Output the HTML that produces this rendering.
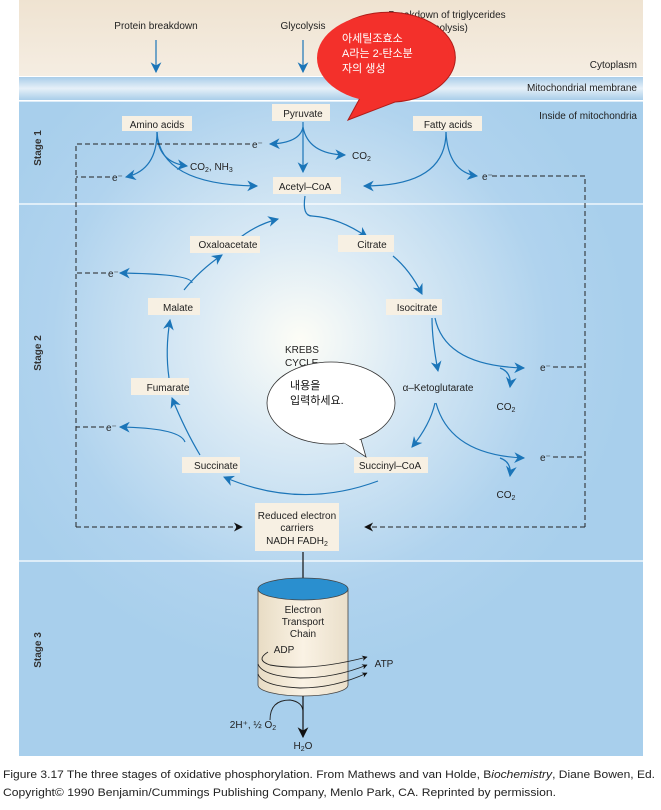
<!DOCTYPE html>
<html><head><meta charset="utf-8"><style>
body{margin:0;background:#fff;width:661px;height:805px;overflow:hidden}
svg text{font-family:"Liberation Sans","Noto Sans CJK KR",sans-serif}
</style></head><body>
<svg width="661" height="805" viewBox="0 0 661 805" xmlns="http://www.w3.org/2000/svg">
<defs>
<linearGradient id="beige" x1="0" y1="0" x2="0" y2="1"><stop offset="0" stop-color="#efe3d1"/><stop offset="1" stop-color="#f5ede2"/></linearGradient>
<linearGradient id="mem" x1="0" y1="0" x2="0" y2="1"><stop offset="0" stop-color="#a9cde9"/><stop offset="0.5" stop-color="#e6f0f8"/><stop offset="1" stop-color="#a9cde9"/></linearGradient>
<radialGradient id="glow" cx="300" cy="340" r="330" gradientUnits="userSpaceOnUse"><stop offset="0" stop-color="#fdfdf6"/><stop offset="0.3" stop-color="#dcebf5"/><stop offset="0.75" stop-color="#b0d3ee"/><stop offset="1" stop-color="#a8cfec"/></radialGradient>
<linearGradient id="cyl" x1="0" y1="0" x2="1" y2="0"><stop offset="0" stop-color="#e8dcc4"/><stop offset="0.5" stop-color="#faf2e4"/><stop offset="1" stop-color="#eadfca"/></linearGradient>
<marker id="ab" viewBox="0 0 10 10" refX="9" refY="5" markerWidth="11" markerHeight="9" orient="auto"><path d="M0,0 L10,5 L0,10 L3,5z" fill="#1b75b8"/></marker>
<marker id="ak" viewBox="0 0 10 10" refX="9" refY="5" markerWidth="11" markerHeight="9" orient="auto"><path d="M0,0 L10,5 L0,10 L3,5z" fill="#111"/></marker>
<marker id="as" viewBox="0 0 10 10" refX="9" refY="5" markerWidth="7" markerHeight="6" orient="auto"><path d="M0,0 L10,5 L0,10 L3,5z" fill="#111"/></marker>
</defs>
<rect x="19" y="0" width="624" height="76" fill="url(#beige)"/>
<rect x="19" y="77" width="624" height="23" fill="url(#mem)"/>
<rect x="19" y="101" width="624" height="655" fill="url(#glow)"/>
<line x1="19" y1="101" x2="643" y2="101" stroke="#fff" stroke-width="1.2"/>
<line x1="19" y1="204" x2="643" y2="204" stroke="#fff" stroke-width="1.2"/>
<line x1="19" y1="561" x2="643" y2="561" stroke="#fff" stroke-width="1.2"/>
<g font-size="10" fill="#222">
<text x="156" y="29" text-anchor="middle">Protein breakdown</text>
<text x="303" y="29" text-anchor="middle">Glycolysis</text>
<text x="447" y="18" text-anchor="middle">Breakdown of triglycerides</text>
<text x="447" y="31" text-anchor="middle">(lipolysis)</text>
<text x="637" y="68" text-anchor="end">Cytoplasm</text>
<text x="637" y="91" text-anchor="end">Mitochondrial membrane</text>
<text x="637" y="119" text-anchor="end">Inside of mitochondria</text>
</g>
<g font-size="10" font-weight="bold" fill="#333">
<text transform="translate(41,148) rotate(-90)" text-anchor="middle">Stage 1</text>
<text transform="translate(41,353) rotate(-90)" text-anchor="middle">Stage 2</text>
<text transform="translate(41,650) rotate(-90)" text-anchor="middle">Stage 3</text>
</g>
<g stroke="#1b75b8" stroke-width="1.2" fill="none" marker-end="url(#ab)">
<line x1="156" y1="40" x2="156" y2="72"/>
<line x1="303" y1="40" x2="303" y2="72"/>
<line x1="450" y1="40" x2="450" y2="72"/>
<line x1="303" y1="122" x2="303" y2="172"/>
<path d="M303,127 Q300,143 270,144"/>
<path d="M303,127 Q308,154 345,155"/>
<path d="M157,132 Q157,162 187,166"/>
<path d="M157,132 Q157,170 126,177"/>
<path d="M157,132 Q160,185 257,186"/>
<path d="M446,132 Q446,186 364,186"/>
<path d="M446,132 Q448,172 477,176"/>
<path d="M305,196 Q302,216 312,216 Q340,218 367,237"/>
<path d="M393,256 Q410,270 422,294"/>
<path d="M432,318 Q432,340 438,371"/>
<path d="M435,318 Q445,366 524,368"/>
<path d="M500,368 Q512,372 510,387"/>
<path d="M435,403 Q430,425 412,447"/>
<path d="M436,403 Q450,455 524,458"/>
<path d="M500,458 Q512,462 510,476"/>
<path d="M378,481 Q300,510 224,477"/>
<path d="M200,455 Q185,430 172,398"/>
<path d="M169,378 Q165,350 170,320"/>
<path d="M184,290 Q200,270 222,255"/>
<path d="M237,240 Q255,225 278,219"/>
<path d="M192,283 Q192,274 120,273"/>
<path d="M185,442 Q180,428 120,427"/>
</g>
<g fill="#f7f0e3">
<rect x="272" y="104" width="58" height="17"/>
<rect x="122" y="116" width="70" height="15"/>
<rect x="413" y="116" width="69" height="15"/>
<rect x="273" y="177" width="68" height="17"/>
<rect x="338" y="235" width="56" height="17"/>
<rect x="190" y="236" width="70" height="17"/>
<rect x="386" y="299" width="56" height="16"/>
<rect x="148" y="298" width="52" height="17"/>
<rect x="131" y="378" width="58" height="17"/>
<rect x="182" y="457" width="58" height="16"/>
<rect x="354" y="457" width="74" height="16"/>
<rect x="255" y="503" width="84" height="48"/>
</g>
<g font-size="10" fill="#222" text-anchor="middle">
<text x="303" y="117">Pyruvate</text>
<text x="157" y="128">Amino acids</text>
<text x="448" y="128">Fatty acids</text>
<text x="305" y="190">Acetyl–CoA</text>
<text x="372" y="248">Citrate</text>
<text x="228" y="248">Oxaloacetate</text>
<text x="417" y="311">Isocitrate</text>
<text x="178" y="311">Malate</text>
<text x="168" y="391">Fumarate</text>
<text x="216" y="469">Succinate</text>
<text x="390" y="469">Succinyl–CoA</text>
<text x="438" y="391">α–Ketoglutarate</text>
<text x="285" y="353" text-anchor="start">KREBS</text>
<text x="285" y="366" text-anchor="start">CYCLE</text>
<text x="297" y="519">Reduced electron</text>
<text x="297" y="531">carriers</text>
<text x="297" y="544">NADH FADH<tspan font-size="7" dy="2">2</tspan></text>
<text x="190" y="170" text-anchor="start">CO<tspan font-size="7" dy="2">2</tspan><tspan dy="-2">, NH</tspan><tspan font-size="7" dy="2">3</tspan></text>
<text x="352" y="159" text-anchor="start">CO<tspan font-size="7" dy="2">2</tspan></text>
<text x="252" y="148" text-anchor="start">e⁻</text>
<text x="112" y="181" text-anchor="start">e⁻</text>
<text x="482" y="180" text-anchor="start">e⁻</text>
<text x="108" y="277" text-anchor="start">e⁻</text>
<text x="106" y="431" text-anchor="start">e⁻</text>
<text x="540" y="371" text-anchor="start">e⁻</text>
<text x="540" y="461" text-anchor="start">e⁻</text>
<text x="506" y="410">CO<tspan font-size="7" dy="2">2</tspan></text>
<text x="506" y="498">CO<tspan font-size="7" dy="2">2</tspan></text>
</g>
<g stroke="#222" stroke-width="1" stroke-dasharray="5,3" fill="none">
<polyline points="250,144 76,144 76,527"/>
<polyline points="110,177 76,177"/>
<polyline points="492,176 585,176 585,527"/>
<polyline points="106,273 76,273"/>
<polyline points="104,427 76,427"/>
<polyline points="553,367 585,367"/>
<polyline points="553,457 585,457"/>
<line x1="76" y1="527" x2="242" y2="527" marker-end="url(#ak)"/>
<line x1="585" y1="527" x2="365" y2="527" marker-end="url(#ak)"/>
</g>
<line x1="303" y1="552" x2="303" y2="588" stroke="#111" stroke-width="1.2" marker-end="url(#ak)"/>
<path d="M258,589 L258,685 A45,11 0 0 0 348,685 L348,589z" fill="url(#cyl)" stroke="#444" stroke-width="0.8"/>
<ellipse cx="303" cy="589" rx="45" ry="11" fill="#2a8fcf" stroke="#444" stroke-width="0.8"/>
<g stroke="#222" stroke-width="0.9" fill="none">
<path d="M268,652 Q255,660 270,665 Q310,672 367,657" marker-end="url(#as)"/>
<path d="M258,664 Q262,676 300,678 Q335,678 367,665" marker-end="url(#as)"/>
<path d="M258,674 Q262,686 300,688 Q335,688 367,673" marker-end="url(#as)"/>
<path d="M270,720 Q270,700 290,700 Q303,702 303,712"/>
</g>
<line x1="303" y1="696" x2="303" y2="737" stroke="#111" stroke-width="1.2" marker-end="url(#ak)"/>
<g font-size="10" fill="#222" text-anchor="middle">
<text x="303" y="613">Electron</text>
<text x="303" y="625">Transport</text>
<text x="303" y="637">Chain</text>
<text x="284" y="653">ADP</text>
<text x="384" y="667">ATP</text>
<text x="253" y="728">2H⁺, ½ O<tspan font-size="7" dy="2">2</tspan></text>
<text x="303" y="749">H<tspan font-size="7" dy="2">2</tspan><tspan dy="-2">O</tspan></text>
</g>
<g font-size="11" fill="#222">
<text x="3" y="778" textLength="652" lengthAdjust="spacingAndGlyphs">Figure 3.17   The three stages of oxidative phosphorylation. From Mathews and van Holde, B<tspan font-style="italic">iochemistry</tspan>, Diane Bowen, Ed.</text>
<text x="3" y="796" textLength="553" lengthAdjust="spacingAndGlyphs">Copyright© 1990 Benjamin/Cummings Publishing Company, Menlo Park, CA. Reprinted by permission.</text>
</g>
<path d="M348,120 L360,98 A67,45 0 1 1 395,102 Z" fill="#f3302b" stroke="#b01c18" stroke-width="1"/>
<ellipse cx="383" cy="58" rx="66" ry="44" fill="#f3302b"/>
<g font-size="11" fill="#fff">
<text x="342" y="42">아세틸조효소</text>
<text x="342" y="57">A라는 2-탄소분</text>
<text x="342" y="72">자의 생성</text>
</g>
<path d="M340,440 L366,457 L360,436" fill="#fff" stroke="#333" stroke-width="0.8"/>
<ellipse cx="331" cy="403" rx="64" ry="41" fill="#fff" stroke="#333" stroke-width="0.8"/>
<path d="M341,441 L364,454 L359,438" fill="#fff"/>
<g font-size="11" fill="#111">
<text x="290" y="389">내용을</text>
<text x="290" y="404">입력하세요.</text>
</g>
</svg>
</body></html>
